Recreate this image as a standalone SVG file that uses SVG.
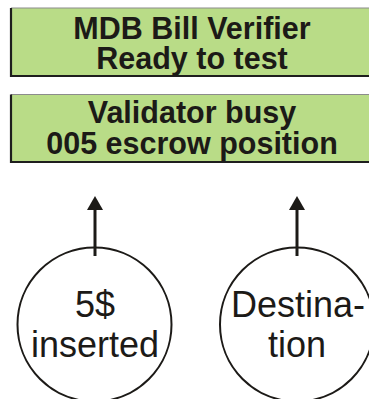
<svg xmlns="http://www.w3.org/2000/svg" width="369" height="399" viewBox="0 0 369 399">
  <style>
    .panel { fill: #b9dc87; }
    .edge-top { stroke: #8c8c8c; stroke-width: 1.2; fill: none; }
    .edge-dark { stroke: #1e1e1e; stroke-width: 2.2; fill: none; }
    .lcd { font-family: "Liberation Sans", Arial, sans-serif; font-weight: bold; font-size: 30.5px; fill: #1c1a17; text-anchor: middle; }
    .node { fill: #ffffff; stroke: #1c1a17; stroke-width: 2; }
    .label { font-family: "Liberation Sans", Arial, sans-serif; font-size: 36px; fill: #1c1a17; text-anchor: middle; }
    .wire { stroke: #1c1a17; stroke-width: 3; fill: none; }
    .tip { fill: #1c1a17; }
  </style>
  <rect width="369" height="399" fill="#ffffff"/>

  <g id="display-top">
    <rect class="panel" x="11" y="8" width="362" height="68"/>
    <line class="edge-top" x1="11" y1="8" x2="369" y2="8"/>
    <polyline class="edge-dark" points="11,8 11,76 369,76"/>
    <text class="lcd" x="192" y="39">MDB Bill Verifier</text>
    <text class="lcd" x="192" y="69">Ready to test</text>
  </g>

  <g id="display-bottom">
    <rect class="panel" x="11" y="94.5" width="362" height="68"/>
    <line class="edge-top" x1="11" y1="94.5" x2="369" y2="94.5"/>
    <polyline class="edge-dark" points="11,94.5 11,162 369,162"/>
    <text class="lcd" x="192" y="123">Validator busy</text>
    <text class="lcd" x="192" y="154">005 escrow position</text>
  </g>

  <g id="bill-inserted">
    <circle class="node" cx="94.5" cy="324.5" r="77"/>
    <text class="label" x="95" y="317">5$</text>
    <text class="label" x="95" y="357">inserted</text>
  </g>

  <g id="destination">
    <circle class="node" cx="297" cy="324.5" r="77"/>
    <text class="label" x="298" y="317">Destina-</text>
    <text class="label" x="297" y="357">tion</text>
  </g>

  <g id="connectors">
    <line class="wire" x1="95" y1="256" x2="95" y2="209"/>
    <path class="tip" d="M87,210 L95,196 L103,210 Z"/>
    <line class="wire" x1="297" y1="256" x2="297" y2="209"/>
    <path class="tip" d="M289,210 L297,196 L305,210 Z"/>
  </g>
</svg>
